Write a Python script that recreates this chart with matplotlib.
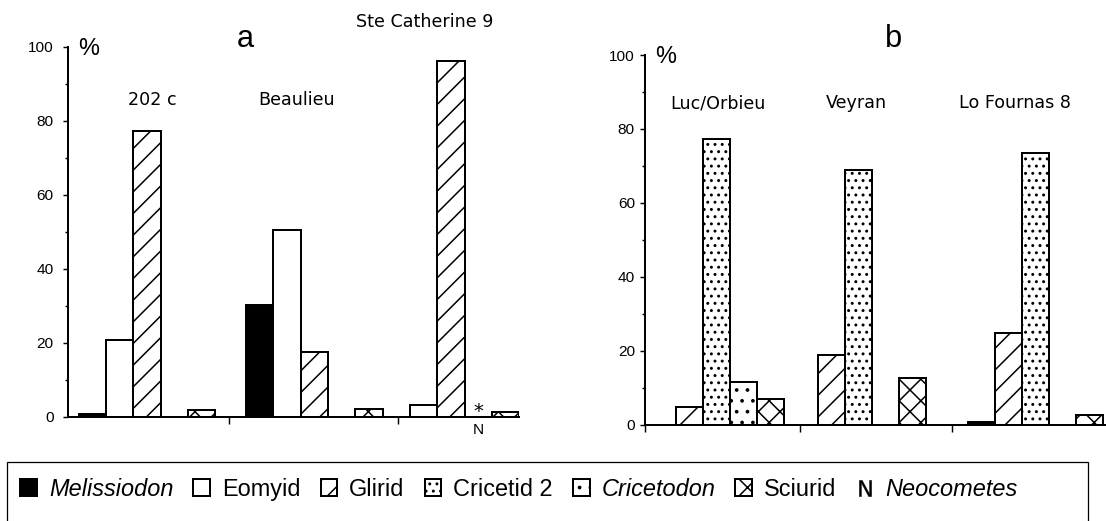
import matplotlib
matplotlib.use("Agg")
import matplotlib.pyplot as plt
from matplotlib.patches import Patch, Rectangle
from matplotlib.lines import Line2D
from matplotlib.ticker import MultipleLocator

# --- data (% of each rodent group per locality) ---
sites_a = ["202 c", "Beaulieu", "Ste Catherine 9"]
melissiodon_a = [0.6, 30.2, 0.0]
eomyid_a = [20.7, 50.5, 3.1]
glirid_a = [77.3, 17.5, 96.2]
neocometes_a = [0, 0, 1]          # only present (marked *) at Ste Catherine 9
sciurid_a = [1.8, 2.2, 1.35]

sites_b = ["Luc/Orbieu", "Veyran", "Lo Fournas 8"]
melissiodon_b = [0.0, 0.0, 0.6]
glirid_b = [4.8, 18.7, 24.8]
cricetid2_b = [77.2, 69.0, 73.5]
cricetodon_b = [11.6, 0.0, 0.0]
sciurid_b = [6.8, 12.5, 2.7]

# fill style per group
STYLE = {
    "Melissiodon": dict(facecolor="black"),
    "Eomyid": dict(facecolor="white"),
    "Glirid": dict(facecolor="white", hatch="//"),
    "Cricetid 2": dict(facecolor="white", hatch="..."),
    "Cricetodon": dict(facecolor="white", hatch=".."),
    "Sciurid": dict(facecolor="white", hatch="xx"),
}

DPI = 130
plt.rcParams["font.family"] = ["Liberation Sans", "DejaVu Sans"]
plt.rcParams["hatch.linewidth"] = 0.85
fig = plt.figure(figsize=(1106 / DPI, 521 / DPI), dpi=DPI)

ax_a = fig.add_axes([0.0614, 0.2002, 0.4075, 0.7102])
ax_b = fig.add_axes([0.5835, 0.1852, 0.4156, 0.7092])


def draw_panel(ax, group_pos, series, xlim, xticks, label_x, label_y, sites, ypad):
    for slot, (name, values) in enumerate(series):
        if name == "Neocometes":
            for g, v in zip(group_pos, values):
                if v:
                    ax.text(g + slot + 0.5, 1.5, "*", ha="center", va="center",
                            fontsize=11, family="DejaVu Sans")
                    ax.text(g + slot + 0.5, -3.6, "N", ha="center", va="center",
                            fontsize=8.5, clip_on=False)
            continue
        xs = [g + slot for g, v in zip(group_pos, values) if v > 0]
        hs = [v for v in values if v > 0]
        ax.bar(xs, hs, width=1, align="edge", edgecolor="black",
               linewidth=1.1, **STYLE[name])

    for x, y, s in zip(label_x, label_y, sites):
        ax.text(x, y, s, ha="center", va="center", fontsize=9.7,
                family="DejaVu Sans", clip_on=False)

    ax.set_xlim(*xlim)
    ax.set_ylim(0, 100)
    for side in ("top", "right"):
        ax.spines[side].set_visible(False)
    for side in ("left", "bottom"):
        ax.spines[side].set_linewidth(1.1)
    ax.set_xticks(xticks)
    ax.set_xticklabels([])
    ax.tick_params(axis="x", direction="out", length=3.9, width=0.8)
    ax.yaxis.set_major_locator(MultipleLocator(20))
    ax.yaxis.set_minor_locator(MultipleLocator(10))
    ax.tick_params(axis="y", which="major", direction="out", length=3,
                   width=0.8, pad=ypad, labelsize=8.5)
    ax.tick_params(axis="y", which="minor", direction="out", length=1.7,
                   width=0.8)


draw_panel(ax_a, [0, 6.11, 11.11],
           [("Melissiodon", melissiodon_a), ("Eomyid", eomyid_a),
            ("Glirid", glirid_a), ("Neocometes", neocometes_a),
            ("Sciurid", sciurid_a)],
           (-0.39, 16.08), [5.51, 11.66],
           [2.68, 7.96, 12.66], [85.7, 85.7, 106.7], sites_a, 4.9)

draw_panel(ax_b, [0, 5.26, 11.81],
           [("Melissiodon", melissiodon_b), ("Glirid", glirid_b),
            ("Cricetid 2", cricetid2_b), ("Cricetodon", cricetodon_b),
            ("Sciurid", sciurid_b)],
           (-0.122, 16.9), [-0.122, 5.59, 11.23],
           [2.57, 7.68, 13.58], [86.9, 86.9, 86.9], sites_b, 2.8)

# panel letters and % signs
fig.text(0.222, 0.9104, "a", fontsize=17, ha="center", va="baseline")
fig.text(0.8078, 0.9104, "b", fontsize=17, ha="center", va="baseline")
fig.text(0.0799, 0.9069, "%", fontsize=13, ha="center", va="center")
fig.text(0.6016, 0.8916, "%", fontsize=13, ha="center", va="center")

# legend along the bottom, in an open box
names = ["Melissiodon", "Eomyid", "Glirid", "Cricetid 2", "Cricetodon", "Sciurid"]
handles = [Patch(edgecolor="black", linewidth=1.1, **STYLE[n]) for n in names]
handles.append(Line2D([], [], marker=r"$\mathrm{N}$", linestyle="none",
                      color="black", markersize=9, markeredgewidth=0.2))
leg = fig.legend(handles, names + ["Neocometes"], loc="center",
                 bbox_to_anchor=(0.469, 0.0605), ncol=7, frameon=False,
                 fontsize=13, handlelength=0.72, handleheight=0.72,
                 handletextpad=0.5, columnspacing=0.85, borderpad=0)
for i in (0, 4, 6):
    leg.get_texts()[i].set_fontstyle("italic")

fig.patches.append(Rectangle((0.00633, -0.05), 0.9774, 0.1632,
                             transform=fig.transFigure, fill=False,
                             linewidth=0.7, edgecolor="black"))

fig.savefig("out.png", dpi=DPI)
